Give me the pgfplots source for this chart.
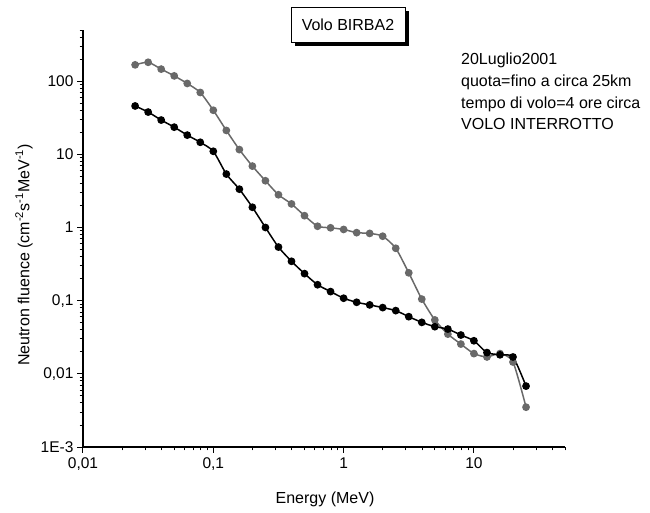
\documentclass[border=0pt]{standalone}
\usepackage{fontspec}
\setmainfont{Liberation Sans}
\usepackage{pgfplots}
\pgfplotsset{compat=1.18}
\definecolor{grayline}{RGB}{105,105,105}
\begin{document}
\begin{tikzpicture}[x=1pt,y=1pt]
\path[use as bounding box] (0,0) rectangle (650,513);
\begin{axis}[
  at={(83pt,66pt)}, anchor=south west,
  scale only axis, width=482pt, height=417pt,
  xmode=log, ymode=log,
  xmin=0.01, xmax=50, ymin=0.001, ymax=500,
  axis lines=left, axis line style={-, line width=1.2pt},
  tick align=outside,
  major tick length=6pt, minor tick length=3.5pt,
  every major tick/.style={black, line width=1pt},
  every minor tick/.style={black, line width=0.9pt},
  xtick={0.01,0.1,1,10}, xticklabels={{0,01},{0,1},1,10},
  minor xtick={0.02,0.03,0.04,0.05,0.06,0.07,0.08,0.09,0.2,0.3,0.4,0.5,0.6,0.7,0.8,0.9,2,3,4,5,6,7,8,9,20,30,40,50},
  ytick={0.001,0.01,0.1,1,10,100}, yticklabels={1E-3,{0,01},{0,1},1,10,100},
  minor ytick={0.002,0.003,0.004,0.005,0.006,0.007,0.008,0.009,0.02,0.03,0.04,0.05,0.06,0.07,0.08,0.09,0.2,0.3,0.4,0.5,0.6,0.7,0.8,0.9,2,3,4,5,6,7,8,9,20,30,40,50,60,70,80,90,200,300,400,500},
  ticklabel style={font=\fontsize{15.5}{17}\selectfont},
  xticklabel style={yshift=-1pt},
  clip=false,
]
\addplot[grayline, line width=1.5pt, smooth, tension=0.4, mark=*, mark size=3.1pt, mark options={fill=grayline, draw=grayline}] coordinates {
(0.02512,167) (0.03162,181) (0.03981,146) (0.05012,118) (0.06310,93) (0.07943,70)
(0.1,40) (0.1259,21.2) (0.1585,11.6) (0.1995,6.9) (0.2512,4.35) (0.3162,2.8)
(0.3981,2.1) (0.5012,1.45) (0.6310,1.04) (0.7943,0.99) (1.0,0.94) (1.259,0.85)
(1.585,0.83) (1.995,0.76) (2.512,0.52) (3.162,0.24) (3.981,0.105) (5.012,0.0545)
(6.310,0.0349) (7.943,0.0255) (10,0.0189) (12.59,0.017) (15.85,0.0189) (19.95,0.0145) (25.12,0.0035)
};
\addplot[black, line width=1.5pt, smooth, tension=0.4, mark=*, mark size=3.1pt, mark options={fill=black, draw=black}] coordinates {
(0.02512,45.8) (0.03162,37.8) (0.03981,29.4) (0.05012,23.5) (0.06310,18.3) (0.07943,14.6)
(0.1,11.0) (0.1259,5.37) (0.1585,3.34) (0.1995,1.89) (0.2512,1.0) (0.3162,0.54)
(0.3981,0.345) (0.5012,0.234) (0.6310,0.165) (0.7943,0.133) (1.0,0.108) (1.259,0.095)
(1.585,0.0875) (1.995,0.0804) (2.512,0.0731) (3.162,0.0604) (3.981,0.0505) (5.012,0.0441)
(6.310,0.0409) (7.943,0.0339) (10,0.0283) (12.59,0.0195) (15.85,0.0182) (19.95,0.017) (25.12,0.0068)
};
\end{axis}
% title box with shadow
\fill[black] (295,467) rectangle (409,502);
\draw[line width=0.6pt, fill=white] (291,471) rectangle (405,506);
\node[font=\fontsize{16}{18}\selectfont] at (348,488.5) {Volo BIRBA2};
% annotation
\node[anchor=base west, align=left, font=\fontsize{16}{21.7}\selectfont, inner sep=0pt] at (461,383)
  {20Luglio2001\\quota=fino a circa 25km\\tempo di volo=4 ore circa\\VOLO INTERROTTO};
% axis labels
\node[rotate=90, font=\fontsize{16}{18}\selectfont] at (24,258)
  {Neutron fluence (cm\textsuperscript{-2}s\textsuperscript{-1}MeV\textsuperscript{-1})};
\node[font=\fontsize{16}{18}\selectfont] at (325,14) {Energy (MeV)};
\end{tikzpicture}
\end{document}
